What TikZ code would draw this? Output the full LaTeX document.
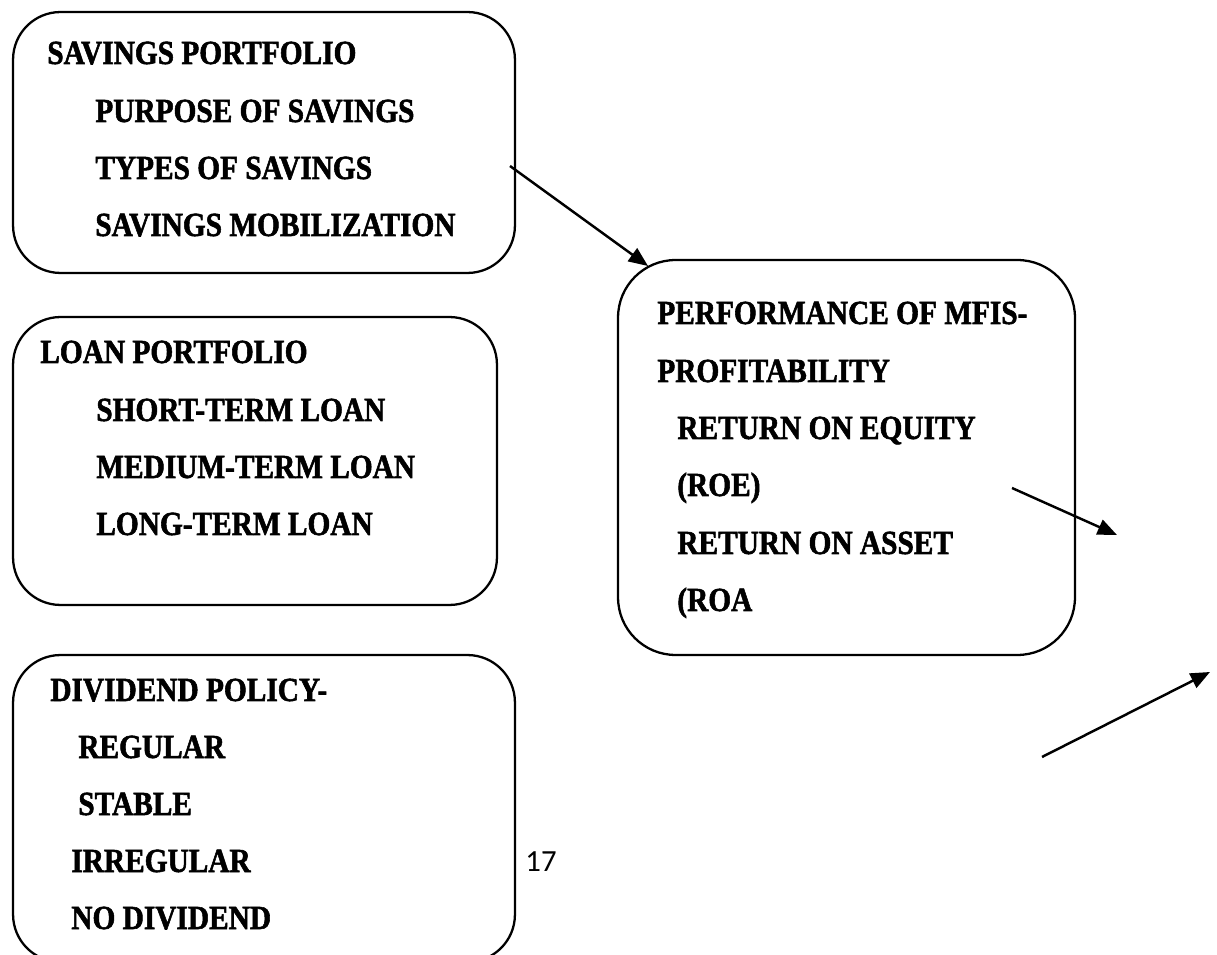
\documentclass[tikz,border=0pt]{standalone}
\usepackage{fontspec}
\usepackage{tikz}
\usetikzlibrary{arrows,arrows.meta}
\newfontfamily\stencilfont[FakeStretch=0.87,FakeBold=1.6]{Liberation Serif}
\newfontfamily\pagefont{Carlito}
\tikzset{
  box/.style = {draw=black, line width=1.3pt, rounded corners=0.95cm,
    inner sep=0pt},% cadre arrondi
  item/.style = {anchor=base west, inner sep=0pt,
    font=\stencilfont\bfseries\fontsize{19.2}{20}\selectfont},% ligne de texte
  link/.style = {line width=1.4pt, -{Triangle[length=11pt,width=9pt]}}% fleche
}

\begin{document}
\begin{tikzpicture}[x=0.02cm, y=-0.02cm]
  \useasboundingbox (0,0) rectangle (1217,955);
  % cadres
  \node [box, minimum width=10.04cm, minimum height=5.22cm] (savings) at (264,142.5) {};
  \node [box, minimum width=9.68cm, minimum height=5.76cm] (loan) at (255,461) {};
  \node [box, minimum width=10.04cm, minimum height=6.14cm] (dividend) at (264,808.5) {};
  \node [box, minimum width=9.14cm, minimum height=7.9cm, rounded corners=1.15cm] (perf) at (846.5,457.5) {};
  % savings portfolio
  \node [item] (s1) at (47,64) {SAVINGS PORTFOLIO};
  \node [item] (s2) at (95,122) {PURPOSE OF SAVINGS};
  \node [item] (s3) at (95,179) {TYPES OF SAVINGS};
  \node [item] (s4) at (95,236) {SAVINGS MOBILIZATION};
  % loan portfolio
  \node [item] (l1) at (40,363) {LOAN PORTFOLIO};
  \node [item] (l2) at (96,421) {SHORT-TERM LOAN};
  \node [item] (l3) at (96,478) {MEDIUM-TERM LOAN};
  \node [item] (l4) at (96,535) {LONG-TERM LOAN};
  % dividend policy
  \node [item] (d1) at (50,701) {DIVIDEND POLICY-};
  \node [item] (d2) at (78,758) {REGULAR};
  \node [item] (d3) at (78,815) {STABLE};
  \node [item] (d4) at (71,872) {IRREGULAR};
  \node [item] (d5) at (71,929) {NO DIVIDEND};
  % performance
  \node [item] (p1) at (657,324) {PERFORMANCE OF MFIS-};
  \node [item] (p2) at (657,382) {PROFITABILITY};
  \node [item] (p3) at (677,439) {RETURN ON EQUITY};
  \node [item] (p4) at (677,496) {(ROE)};
  \node [item] (p5) at (677,554) {RETURN ON ASSET};
  \node [item] (p6) at (677,611) {(ROA};
  % numero de page
  \node [font=\pagefont\fontsize{17.5}{20}\selectfont, inner sep=0pt] (page) at (541,862) {17};
  % fleches
  \coordinate (a1) at (510,166);
  \coordinate (b1) at (648,266);
  \coordinate (a2) at (1012,488);
  \coordinate (b2) at (1117,535);
  \coordinate (a3) at (1042,757);
  \coordinate (b3) at (1210,672);
  \draw [link] (a1) -- (b1);
  \draw [link] (a2) -- (b2);
  \draw [link] (a3) -- (b3);
\end{tikzpicture}
\end{document}
